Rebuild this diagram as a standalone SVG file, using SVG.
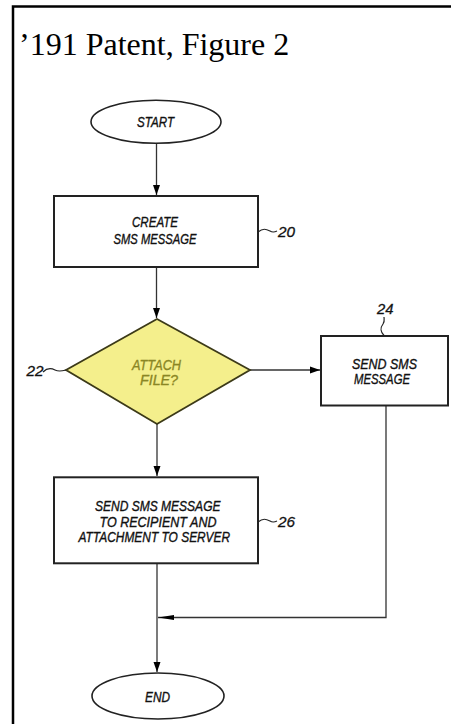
<svg xmlns="http://www.w3.org/2000/svg" width="451" height="724" viewBox="0 0 451 724">
<defs>
<style>
.frame{fill:none;stroke:#000;stroke-width:2.5}
.title{font-family:"Liberation Serif","Times New Roman",serif;font-size:32px;fill:#000}
.box{fill:#fff;stroke:#222;stroke-width:2}
.oval{fill:#fff;stroke:#222;stroke-width:1.6}
.dia{fill:#f4ef8c;stroke:#3c3a18;stroke-width:1.8}
.t{font-family:"Liberation Sans",Arial,sans-serif;font-style:italic;font-size:14px;fill:#111;stroke:#111;stroke-width:0.35}
.ty{font-family:"Liberation Sans",Arial,sans-serif;font-style:italic;font-size:14px;fill:#8a8624;stroke:#8a8624;stroke-width:0.3}
.ref{font-family:"Liberation Sans",Arial,sans-serif;font-style:italic;font-size:15px;fill:#111;stroke:#111;stroke-width:0.3}
.ln{fill:none;stroke:#333;stroke-width:1.3}
.sq{fill:none;stroke:#222;stroke-width:1.2}
</style>
<marker id="ah" viewBox="0 0 10 12" refX="10" refY="6" markerWidth="10" markerHeight="12" markerUnits="userSpaceOnUse" orient="auto">
<path d="M0,2.5 L10,6 L0,9.5 Z" fill="#000"/>
</marker>
<marker id="ahl" viewBox="0 0 16 10" refX="16" refY="5" markerWidth="16" markerHeight="10" markerUnits="userSpaceOnUse" orient="auto">
<path d="M0,2.5 L16,5 L0,7.5 Z" fill="#000"/>
</marker>
</defs>
<rect width="451" height="724" fill="#fff"/>
<path class="frame" d="M13,724 V6.5 H451"/>
<text class="title" x="19" y="55">’191 Patent, Figure 2</text>

<g id="connectors">
<path class="ln" d="M156.5,143.5 V195" marker-end="url(#ah)"/>
<path class="ln" d="M156.5,267 V318" marker-end="url(#ah)"/>
<path class="ln" d="M250,370 H320" marker-end="url(#ah)"/>
<path class="ln" d="M157,424 V476" marker-end="url(#ah)"/>
<path class="ln" d="M157,563.5 V672" marker-end="url(#ah)"/>
<path class="ln" d="M386,405.5 V617.5 H158" marker-end="url(#ahl)"/>
</g>

<g id="start">
<ellipse class="oval" cx="156" cy="121.7" rx="65" ry="21.5"/>
<text class="t" x="137" y="127" textLength="37" lengthAdjust="spacingAndGlyphs">START</text>
</g>

<g id="n20">
<rect class="box" x="54" y="196" width="204" height="71"/>
<text class="t" x="132" y="227.3" textLength="46" lengthAdjust="spacingAndGlyphs">CREATE</text>
<text class="t" x="113.5" y="244.3" textLength="83" lengthAdjust="spacingAndGlyphs">SMS MESSAGE</text>
<path class="sq" d="M258,232 C263,228 266,229 270,231 C273,233 275,232 277,231"/>
<text class="ref" x="278" y="236.7" textLength="17" lengthAdjust="spacingAndGlyphs">20</text>
</g>

<g id="n22">
<polygon class="dia" points="157,319 250,370 157,424 66,370"/>
<text class="ty" x="132" y="370" textLength="49" lengthAdjust="spacingAndGlyphs">ATTACH</text>
<text class="ty" x="140" y="385" textLength="38" lengthAdjust="spacingAndGlyphs">FILE?</text>
<path class="sq" d="M43,372 C47,368 51,368 55,370 C59,372 62,371 66,370"/>
<text class="ref" x="26.5" y="376" textLength="17" lengthAdjust="spacingAndGlyphs">22</text>
</g>

<g id="n24">
<rect class="box" x="321" y="336" width="127" height="69.5"/>
<text class="t" x="352" y="368.5" textLength="65" lengthAdjust="spacingAndGlyphs">SEND SMS</text>
<text class="t" x="354" y="384" textLength="56" lengthAdjust="spacingAndGlyphs">MESSAGE</text>
<path class="sq" d="M384,335.5 C380,331 380,328 383,324 C385,321 384,319 384,317"/>
<text class="ref" x="377" y="314.3" textLength="16.5" lengthAdjust="spacingAndGlyphs">24</text>
</g>

<g id="n26">
<rect class="box" x="54" y="477.3" width="204" height="86"/>
<text class="t" x="95" y="511" textLength="125.5" lengthAdjust="spacingAndGlyphs">SEND SMS MESSAGE</text>
<text class="t" x="99.5" y="526.7" textLength="117" lengthAdjust="spacingAndGlyphs">TO RECIPIENT AND</text>
<text class="t" x="78.5" y="541.7" textLength="151.5" lengthAdjust="spacingAndGlyphs">ATTACHMENT TO SERVER</text>
<path class="sq" d="M258,522 C263,518 266,519 270,521 C273,523 275,522 277,521"/>
<text class="ref" x="278" y="526.7" textLength="17" lengthAdjust="spacingAndGlyphs">26</text>
</g>

<g id="end">
<ellipse class="oval" cx="158" cy="696" rx="66" ry="23"/>
<text class="t" x="145" y="701.7" textLength="25" lengthAdjust="spacingAndGlyphs">END</text>
</g>
</svg>
